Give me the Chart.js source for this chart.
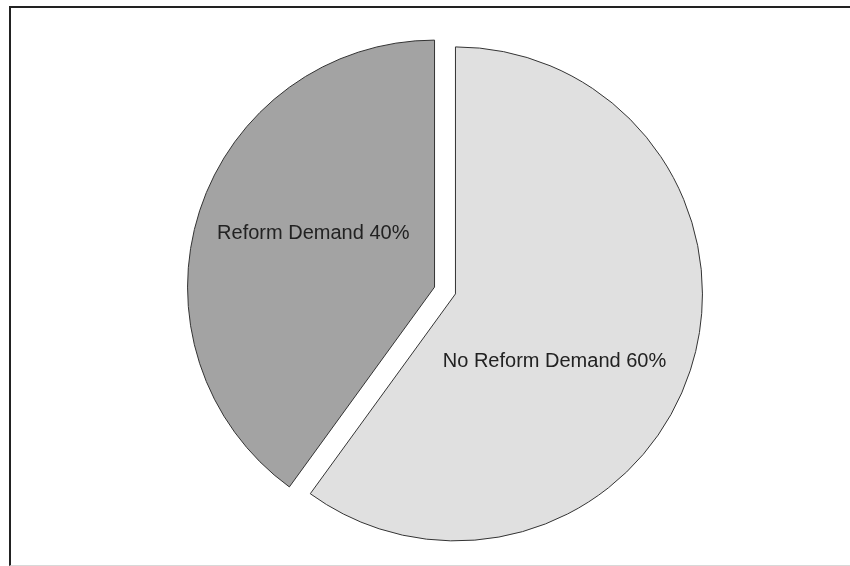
<!DOCTYPE html>
<html>
<head>
<meta charset="utf-8">
<script src="https://cdn.jsdelivr.net/npm/chart.js@4/dist/chart.umd.min.js"></script>
<style>
  html, body { margin: 0; padding: 0; background: #ffffff; }
  #wrap { position: relative; width: 850px; height: 566px; overflow: hidden; background: #fff; }
  #frame { position: absolute; left: 9px; top: 6px; width: 900px; height: 557px;
           border-left: 2px solid #222; border-top: 2px solid #222; border-bottom: 1px solid #d8d8d8; }
  canvas { position: absolute; left: 0; top: 0; }
</style>
</head>
<body>
<div id="wrap">
  <div id="frame"></div>
  <canvas id="c" width="850" height="566"></canvas>
</div>
<script>
// Data
const categories = ['No Reform Demand', 'Reform Demand'];
const shares = [60, 40];

// Styling
const sliceColors = ['#e0e0e0', '#a3a3a3'];
const explodeDistance = 11;
// label placement per slice: [angle shift in degrees from slice bisector, fraction of radius]
const labelPlacement = [[15.7, 0.482], [6.6, 0.54]];
const labelBaselineNudge = 2;

const explodePlugin = {
  id: 'explode',
  afterDatasetsUpdate(chart) {
    const meta = chart.getDatasetMeta(0);
    meta.data.forEach((arc) => {
      const mid = (arc.startAngle + arc.endAngle) / 2;
      arc.x += Math.cos(mid) * explodeDistance;
      arc.y += Math.sin(mid) * explodeDistance;
    });
  }
};

const labelPlugin = {
  id: 'sliceLabels',
  afterDatasetsDraw(chart) {
    const ctx = chart.ctx;
    const meta = chart.getDatasetMeta(0);
    ctx.save();
    ctx.font = '20px "Liberation Sans", Arial, sans-serif';
    ctx.fillStyle = '#222';
    ctx.textAlign = 'center';
    ctx.textBaseline = 'middle';
    meta.data.forEach((arc, i) => {
      const mid = (arc.startAngle + arc.endAngle) / 2 + labelPlacement[i][0] * Math.PI / 180;
      const r = arc.outerRadius * labelPlacement[i][1];
      const x = arc.x + Math.cos(mid) * r;
      const y = arc.y + Math.sin(mid) * r + labelBaselineNudge;
      ctx.fillText(categories[i] + ' ' + shares[i] + '%', x, y);
    });
    ctx.restore();
  }
};

new Chart(document.getElementById('c'), {
  type: 'pie',
  data: {
    labels: categories,
    datasets: [{
      data: shares,
      backgroundColor: sliceColors,
      borderColor: '#333',
      borderWidth: 1
    }]
  },
  options: {
    responsive: false,
    animation: false,
    radius: 247,
    layout: { padding: { left: 40, right: 0, top: 15, bottom: 0 } },
    plugins: {
      legend: { display: false },
      tooltip: { enabled: false }
    }
  },
  plugins: [explodePlugin, labelPlugin]
});
</script>
</body>
</html>
